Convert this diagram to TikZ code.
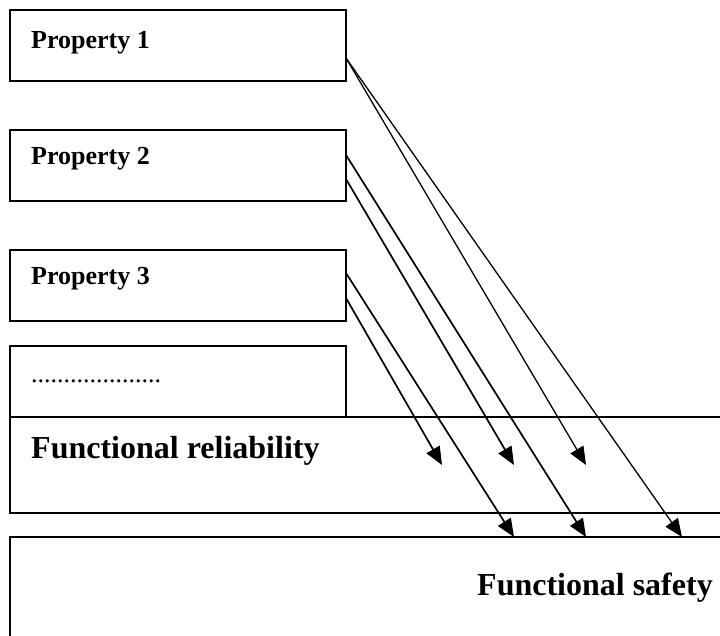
\documentclass[tikz,border=0pt]{standalone}
\usepackage{fontspec}
\setmainfont{Liberation Serif}
\usetikzlibrary{arrows.meta}
\begin{document}
\begin{tikzpicture}[x=1pt,y=-1pt,
  box/.style={draw, line width=2pt, rectangle, inner sep=0pt, outer sep=0pt,
              anchor=north west, minimum width=336pt, minimum height=71pt},
  wide/.style={box, minimum width=740pt},
  prop/.style={font=\bfseries\fontsize{26}{30}\selectfont, anchor=base west, inner sep=0pt},
  big/.style={font=\bfseries\fontsize{32}{38}\selectfont, anchor=base west, inner sep=0pt},
  dots/.style={font=\fontsize{26}{30}\selectfont, anchor=base west, inner sep=0pt},
  link/.style={line width=1.7pt, -{Triangle[length=18pt,width=15pt]}},
  thinlink/.style={link, line width=1.3pt}]
\useasboundingbox (0,0) rectangle (720,635);
\clip (0,0) rectangle (720,635);

% property boxes
\node[box] (p1) at (10,10) {};
\node[box] (p2) at (10,130) {};
\node[box] (p3) at (10,250) {};
\node[box] (p4) at (10,346) {};
% result boxes running off the right and bottom edges
\node[wide, minimum height=96pt] (rel) at (10,417) {};
\node[wide, minimum height=140pt] (saf) at (10,537) {};

% labels
\node[prop] (t1) at (31,48) {Property 1};
\node[prop] (t2) at (31,164) {Property 2};
\node[prop] (t3) at (31,284) {Property 3};
\node[dots] (t4) at (31,382) {....................};
\node[big] (trel) at (31,458) {Functional reliability};
\node[big] (tsaf) at (477,595) {Functional safety};

% connector start points on the right side of the property boxes
\coordinate (s1) at (346,58);
\coordinate (s2a) at (346,155);
\coordinate (s2b) at (346,179);
\coordinate (s3a) at (346,273);
\coordinate (s3b) at (346,298);
% arrow tips inside reliability and on top of safety
\coordinate (r1) at (586,465);
\coordinate (r2) at (514,465);
\coordinate (r3) at (442,465);
\coordinate (f1) at (682,537);
\coordinate (f2) at (586,537);
\coordinate (f3) at (514,537);

\draw[thinlink] (s1) -- (r1);
\draw[thinlink] (s1) -- (f1);
\draw[link] (s2b) -- (r2);
\draw[link] (s2a) -- (f2);
\draw[link] (s3b) -- (r3);
\draw[link] (s3a) -- (f3);
\end{tikzpicture}
\end{document}
